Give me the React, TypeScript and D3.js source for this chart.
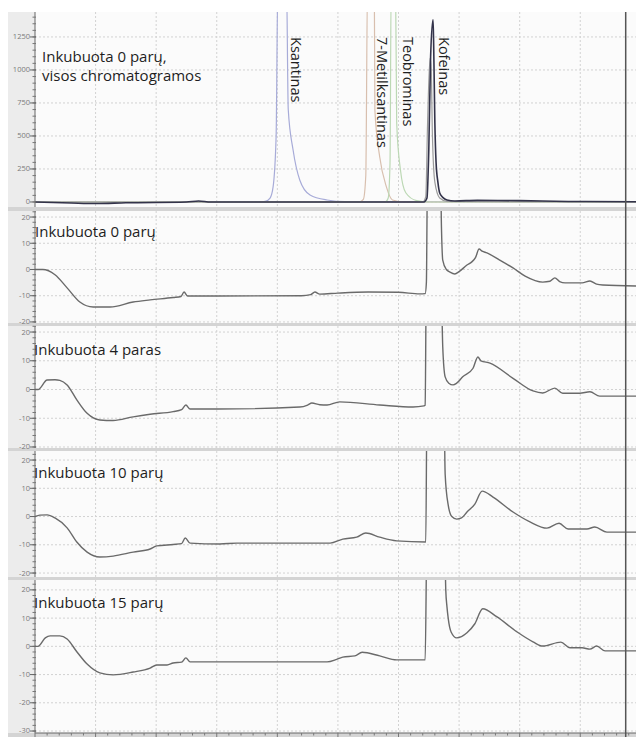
import * as d3 from "d3";

type Pt = [number, number];

// retention time (min) vs detector signal
const ksantinas: Pt[] = [
  [0, 0], [3.7, 0], [3.8, 5], [3.88, 30], [3.93, 114], [3.98, 500], [4.01, 1700],
  [4.15, 1700], [4.18, 700], [4.26, 394], [4.37, 167], [4.54, 53], [4.82, 15], [5.12, 3], [9.92, 0],
];
const metilksantinas: Pt[] = [
  [0, 0], [5.35, 0], [5.42, 20], [5.46, 200], [5.49, 1700], [5.6, 1700], [5.61, 697],
  [5.69, 341], [5.8, 114], [5.9, 15], [6.1, 0], [9.92, 0],
];
const teobrominas: Pt[] = [
  [0, 0], [5.78, 0], [5.83, 30], [5.86, 300], [5.88, 1700], [5.95, 1700], [5.97, 600],
  [6.03, 250], [6.12, 70], [6.3, 10], [6.5, 0], [9.92, 0],
];
const kofeinasAlt: Pt[] = [
  [0, 0], [6.4, 0], [6.45, 40], [6.48, 600], [6.52, 1090], [6.54, 1000], [6.56, 500],
  [6.6, 150], [6.68, 30], [6.8, 5], [9.92, 0],
];
const kofeinas: Pt[] = [
  [0, 0], [0.6, -8], [1.0, -12], [1.5, -6], [2.5, 0], [2.7, 8], [2.9, 0], [6.42, 0],
  [6.47, 30], [6.5, 400], [6.53, 1100], [6.57, 1380], [6.58, 1200], [6.6, 600], [6.62, 300],
  [6.65, 150], [6.68, 68], [6.73, 35], [6.8, 15], [6.93, 8], [7.3, 12], [8.0, 10], [8.8, 4], [9.92, 2],
];

const inc0: Pt[] = [
  [0, 0], [0.13, 0], [0.33, -2], [0.53, -7], [0.74, -12.4], [0.96, -14.3], [1.24, -14.3],
  [1.62, -12.4], [1.9, -11.6], [2.28, -10.7], [2.41, -10.3], [2.46, -8.6], [2.52, -10.1],
  [3.02, -10.1], [4.4, -10], [4.55, -9.6], [4.62, -8.6], [4.7, -9.4], [5.0, -9.0], [5.5, -8.6],
  [6.0, -8.7], [6.35, -9.3], [6.44, -9.2], [6.46, -5], [6.48, 40], [6.69, 40], [6.71, 15],
  [6.73, 3.6], [6.79, 0], [6.85, -1], [6.93, -1.7], [7.0, -0.8], [7.13, 1.7], [7.21, 2.9],
  [7.27, 4.5], [7.33, 7.8], [7.38, 7.0], [7.46, 6.3], [7.67, 3.6], [7.89, 0.6], [8.09, -2.5],
  [8.38, -4.8], [8.5, -4.5], [8.58, -3.2], [8.66, -4.6], [8.75, -5.1], [9.03, -5.1], [9.16, -4.4],
  [9.27, -5.6], [9.37, -5.9], [9.92, -6.3],
];
const inc4: Pt[] = [
  [0, 0], [0.05, 0], [0.2, 3.3], [0.33, 3.4], [0.41, 3.2], [0.53, 1.6], [0.69, -3.6],
  [0.86, -8.3], [1.07, -10.6], [1.29, -10.8], [1.62, -9.5], [1.9, -8.6], [2.28, -7.7],
  [2.42, -7.0], [2.49, -5.4], [2.56, -6.8], [3.02, -6.8], [4.37, -6.1], [4.5, -5.4], [4.57, -4.7],
  [4.7, -5.3], [4.82, -5.4], [5.03, -4.3], [5.69, -5.4], [6.24, -6.1], [6.42, -5.7], [6.44, -5.5],
  [6.46, 40], [6.7, 40], [6.73, 15], [6.77, 4.4], [6.83, 2.2], [6.9, 1.6], [6.96, 2.2],
  [7.06, 4.4], [7.23, 7.4], [7.31, 11.3], [7.36, 10.0], [7.51, 9.2], [7.89, 3.9], [8.22, -0.5],
  [8.38, -1.2], [8.58, 0.5], [8.71, -1.3], [8.99, -1.3], [9.16, -0.8], [9.32, -2.3], [9.92, -2.3],
];
const inc10: Pt[] = [
  [0, 0], [0.08, 0.5], [0.2, 0.6], [0.33, -0.5], [0.53, -4], [0.69, -9], [0.86, -12.6],
  [1.07, -14.3], [1.29, -14], [1.62, -12.6], [1.9, -11.5], [2.01, -10.4], [2.28, -9.9],
  [2.42, -9.6], [2.48, -7.6], [2.56, -9.4], [3.05, -9.7], [3.33, -9.4], [4.87, -9.4], [5.08, -8],
  [5.31, -7.3], [5.46, -5.8], [5.69, -7.3], [5.97, -8.6], [6.45, -9], [6.47, 40], [6.75, 40],
  [6.77, 15], [6.82, 4.1], [6.88, 0], [6.96, -0.9], [7.04, -0.5], [7.13, 1.6], [7.26, 4.4],
  [7.38, 9], [7.56, 6.9], [7.89, 1.6], [8.17, -1.9], [8.45, -4.1], [8.65, -2.4], [8.8, -4.4],
  [9.11, -4.4], [9.24, -3.7], [9.44, -5.5], [9.92, -5.5],
];
const inc15: Pt[] = [
  [0, 0], [0.05, 0], [0.17, 3], [0.25, 3.7], [0.41, 3.7], [0.53, 2.6], [0.69, -1.9],
  [0.86, -6.3], [1.07, -9.4], [1.29, -10.1], [1.62, -9.1], [1.9, -7.7], [2.01, -6.6],
  [2.18, -6.6], [2.28, -5.9], [2.42, -5.6], [2.49, -4.1], [2.56, -5.5], [4.82, -5.5],
  [4.98, -4.6], [5.08, -3.8], [5.28, -3.4], [5.4, -2.1], [5.69, -3.4], [5.97, -4.8], [6.44, -4.8],
  [6.47, 40], [6.76, 40], [6.78, 20], [6.8, 14], [6.82, 10], [6.87, 5], [6.96, 3], [7.13, 4.8],
  [7.26, 8], [7.39, 13.3], [7.62, 10.5], [7.95, 5.2], [8.22, 1.6], [8.38, 0.1], [8.68, 1.5],
  [8.83, -0.5], [9.03, -0.5], [9.16, -1], [9.27, 0.1], [9.41, -1.6], [9.92, -1.6],
];

const topTicks = [0, 250, 500, 750, 1000, 1250];
const midTicks = [-20, -10, 0, 10, 20];
const lowTicks = [-30, -20, -10, 0, 10, 20];

const peakLabels = [
  { name: "Ksantinas", t: 4.2 },
  { name: "7-Metilksantinas", t: 5.62 },
  { name: "Teobrominas", t: 6.04 },
  { name: "Kofeinas", t: 6.63 },
];

const cursorTime = 9.75;

interface Series {
  data: Pt[];
  color: string;
  width: number;
}

interface PanelDef {
  id: string;
  top: number;
  bottom: number;
  domain: [number, number];
  ticks: number[];
  minor: number;
  labels: { text: string; y: number; x: number }[];
  series: Series[];
}

const FONT = "'Open Sans', 'Noto Sans', sans-serif";

const panels: PanelDef[] = [
  {
    id: "p1", top: 12, bottom: 207, domain: [-38, 1439], ticks: topTicks, minor: 50,
    labels: [
      { text: "Inkubuota 0 parų,", x: 42, y: 62 },
      { text: "visos chromatogramos", x: 42, y: 81 },
    ],
    series: [
      { data: ksantinas, color: "#a7abd8", width: 1.2 },
      { data: metilksantinas, color: "#d8bfae", width: 1.2 },
      { data: teobrominas, color: "#bcd8b4", width: 1.2 },
      { data: kofeinasAlt, color: "#9a9a9a", width: 1.2 },
      { data: kofeinas, color: "#33334a", width: 1.6 },
    ],
  },
  {
    id: "p2", top: 211, bottom: 323, domain: [-20.4, 22.3], ticks: midTicks, minor: 2,
    labels: [{ text: "Inkubuota 0 parų", x: 35, y: 237 }],
    series: [{ data: inc0, color: "#6a6a6a", width: 1.4 }],
  },
  {
    id: "p3", top: 326, bottom: 448, domain: [-20.35, 22.1], ticks: midTicks, minor: 2,
    labels: [{ text: "Inkubuota 4 paras", x: 34, y: 355 }],
    series: [{ data: inc4, color: "#6a6a6a", width: 1.4 }],
  },
  {
    id: "p4", top: 451, bottom: 577, domain: [-21.4, 23.2], ticks: midTicks, minor: 2,
    labels: [{ text: "Inkubuota 10 parų", x: 34, y: 478 }],
    series: [{ data: inc10, color: "#6a6a6a", width: 1.4 }],
  },
  {
    id: "p5", top: 580, bottom: 733, domain: [-30.7, 23.5], ticks: lowTicks, minor: 2,
    labels: [{ text: "Inkubuota 15 parų", x: 34, y: 608 }],
    series: [{ data: inc15, color: "#6a6a6a", width: 1.4 }],
  },
];

const LEFT = 8;
const AXIS = 35;
const RIGHT = 636;

export default function App() {
  const x = d3.scaleLinear().domain([0, 9.92]).range([AXIS, RIGHT]);
  const gridTimes = d3.range(1, 10);
  const minorTimes = d3.range(0, 9.92, 0.2);

  return (
    <svg
      width={636}
      height={737}
      style={{ position: "absolute", left: 0, top: 0, display: "block" }}
      fontFamily={FONT}
    >
      <rect x={0} y={0} width={636} height={737} fill="#ffffff" />
      <rect x={LEFT} y={12} width={RIGHT - LEFT} height={737 - 12} fill="#d4d4d4" />
      {panels.map((p) => {
        const y = d3.scaleLinear().domain(p.domain).range([p.bottom, p.top]);
        const line = d3
          .line<Pt>()
          .x((d) => x(d[0]))
          .y((d) => y(d[1]))
          .curve(d3.curveMonotoneX);
        const minorTicks = d3.range(
          Math.ceil(p.domain[0] / p.minor) * p.minor,
          p.domain[1],
          p.minor
        );
        return (
          <g key={p.id}>
            <defs>
              <clipPath id={`clip-${p.id}`}>
                <rect x={AXIS} y={p.top} width={RIGHT - AXIS} height={p.bottom - p.top} />
              </clipPath>
            </defs>
            <rect x={LEFT} y={p.top} width={AXIS - LEFT} height={p.bottom - p.top} fill="#ececec" />
            <rect x={AXIS} y={p.top} width={RIGHT - AXIS} height={p.bottom - p.top} fill="#fbfbfb" />
            {gridTimes.map((t) => (
              <line
                key={`gx${t}`}
                x1={x(t)}
                x2={x(t)}
                y1={p.top}
                y2={p.bottom}
                stroke="#d2d2d2"
                strokeDasharray="2,2"
              />
            ))}
            {p.ticks.map((v) => (
              <line
                key={`gy${v}`}
                x1={AXIS}
                x2={RIGHT}
                y1={y(v)}
                y2={y(v)}
                stroke="#d2d2d2"
                strokeDasharray="2,2"
              />
            ))}
            <g clipPath={`url(#clip-${p.id})`}>
              {p.series.map((s, i) => (
                <path
                  key={i}
                  d={line(s.data) ?? ""}
                  fill="none"
                  stroke={s.color}
                  strokeWidth={s.width}
                  strokeLinejoin="round"
                />
              ))}
            </g>
            <line x1={AXIS} x2={AXIS} y1={p.top} y2={p.bottom} stroke="#666" strokeWidth={1} />
            {minorTicks.map((v) => (
              <line key={`mt${v}`} x1={AXIS - 2.5} x2={AXIS + 1} y1={y(v)} y2={y(v)} stroke="#777" />
            ))}
            {p.ticks.map((v) => (
              <g key={`t${v}`}>
                <line x1={AXIS - 5} x2={AXIS + 1} y1={y(v)} y2={y(v)} stroke="#666" />
                <text
                  x={AXIS - 5}
                  y={y(v)}
                  dy="0.33em"
                  textAnchor="end"
                  fontSize={7.5}
                  fill="#7a7a7a"
                >
                  {v}
                </text>
              </g>
            ))}
            {p.labels.map((l) => (
              <text key={l.text} x={l.x} y={l.y} fontSize={15} fill="#1e1e1e">
                {l.text}
              </text>
            ))}
          </g>
        );
      })}
      {peakLabels.map((l) => (
        <text
          key={l.name}
          transform={`translate(${x(l.t) + 2},37) rotate(90)`}
          fontSize={14.5}
          fill="#1e1e1e"
        >
          {l.name}
        </text>
      ))}
      <line x1={AXIS} x2={RIGHT} y1={733} y2={733} stroke="#666" />
      {minorTimes.map((t) => (
        <line
          key={`bt${t}`}
          x1={x(t)}
          x2={x(t)}
          y1={733}
          y2={Math.abs(t - Math.round(t)) < 0.01 ? 737 : 735.5}
          stroke="#777"
        />
      ))}
      <line
        x1={x(cursorTime)}
        x2={x(cursorTime)}
        y1={12}
        y2={737}
        stroke="#555"
        strokeWidth={1.5}
      />
    </svg>
  );
}
